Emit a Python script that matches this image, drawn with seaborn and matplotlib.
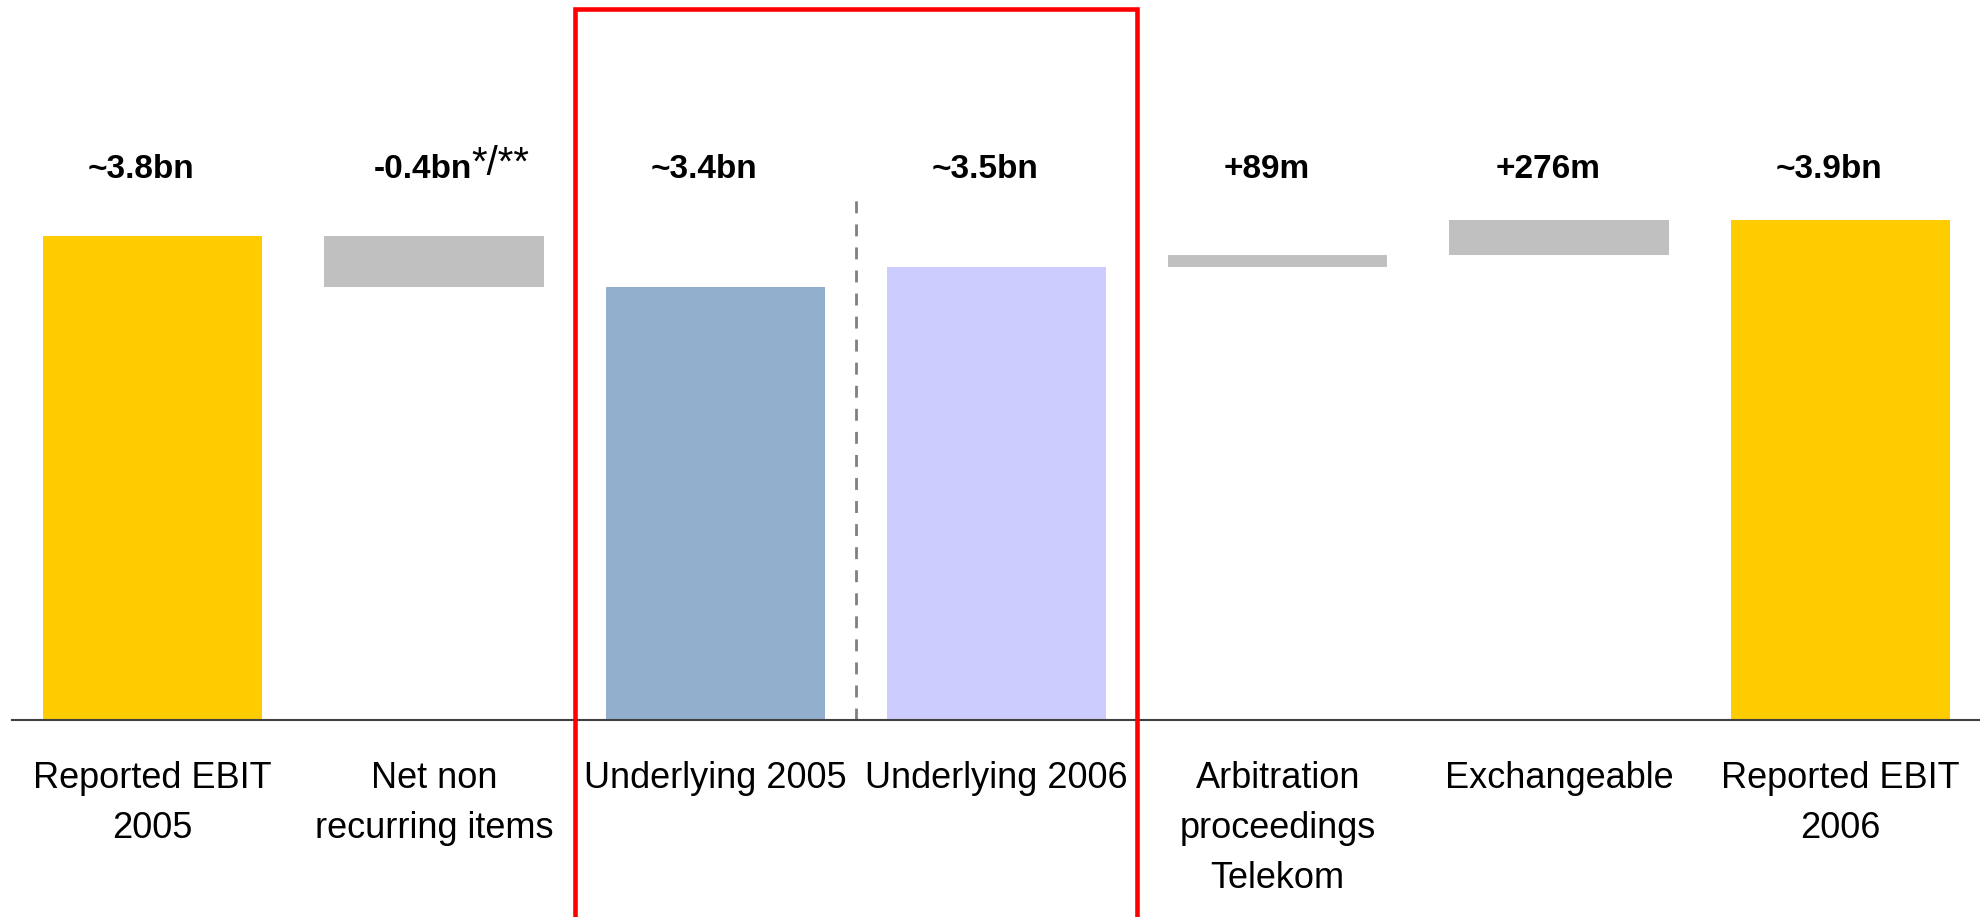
import matplotlib
matplotlib.use("Agg")
import matplotlib.pyplot as plt
from matplotlib.patches import Rectangle
import seaborn as sns

# ---- data ----
categories = ["Reported EBIT\n2005", "Net non\nrecurring items", "Underlying 2005",
              "Underlying 2006", "Arbitration\nproceedings\nTelekom", "Exchangeable",
              "Reported EBIT\n2006"]
values = [3.80, -0.40, 3.40, 3.56, 0.089, 0.276, 3.925]
kinds = ["total", "delta", "total", "total", "delta", "delta", "total"]
value_labels = ["~3.8bn", "-0.4bn", "~3.4bn", "~3.5bn", "+89m", "+276m", "~3.9bn"]
label_suffix = ["", "*/**", "", "", "", "", ""]
colors = ["#FFCC00", "#C0C0C0", "#93AFCE", "#CCCCFF", "#C0C0C0", "#C0C0C0", "#FFCC00"]

sns.set_style("white")
plt.rcParams["font.family"] = ["Liberation Sans", "DejaVu Sans"]

W, H = 1981, 917
fig = plt.figure(figsize=(W / 100, H / 100), dpi=100)
fig.patch.set_facecolor("white")
ax = fig.add_axes([12 / W, 197 / H, 1 - 12 / W, 720 / H])

# waterfall bottoms / heights
bottoms, heights = [], []
running = 0.0
for v, k in zip(values, kinds):
    if k == "total":
        bottoms.append(0.0)
        heights.append(v)
        running = v
    else:
        bottoms.append(running + min(0.0, v))
        heights.append(abs(v))
        running += v

for cat, h, b, c in zip(categories, heights, bottoms, colors):
    sns.barplot(x=[cat], y=[h], order=categories, bottom=b, color=c,
                saturation=1, width=0.78, linewidth=0, errorbar=None, ax=ax)

ax.set_xlim(-0.5, len(categories) - 0.5)
ax.set_ylim(0, 720 / 127.37)

# value labels
label_y = 4.255
for i, (lab, suf) in enumerate(zip(value_labels, label_suffix)):
    t = ax.text(i - 0.04, label_y, lab, ha="center", va="baseline",
                fontsize=24, fontweight="bold", color="black")
    if suf:
        ax.annotate(suf, xy=(1, 0.05), xycoords=t, ha="left", va="bottom",
                    fontsize=29, color="black")

# dashed separator
ax.plot([2.5, 2.5], [0, 4.098], color="#808080", lw=2, dashes=(4.3, 4),
        solid_capstyle="butt", dash_capstyle="butt")

# red highlight box
ax.add_patch(Rectangle((1.5, -2.0), 2.0, 2.0 + 5.582, fill=False,
                       edgecolor="#FF0000", lw=3.3, clip_on=False, zorder=5))

# axes styling
for s in ["top", "right", "left"]:
    ax.spines[s].set_visible(False)
ax.spines["bottom"].set_color("#404040")
ax.spines["bottom"].set_linewidth(1.5)
ax.set_yticks([])
ax.set_xticks(range(len(categories)))
ax.set_xticklabels(categories, fontsize=26, linespacing=1.55)
ax.tick_params(axis="x", length=0, pad=29.5, colors="black")
ax.set_xlabel("")
ax.set_ylabel("")

fig.savefig("out.png", dpi=100, facecolor="white")
